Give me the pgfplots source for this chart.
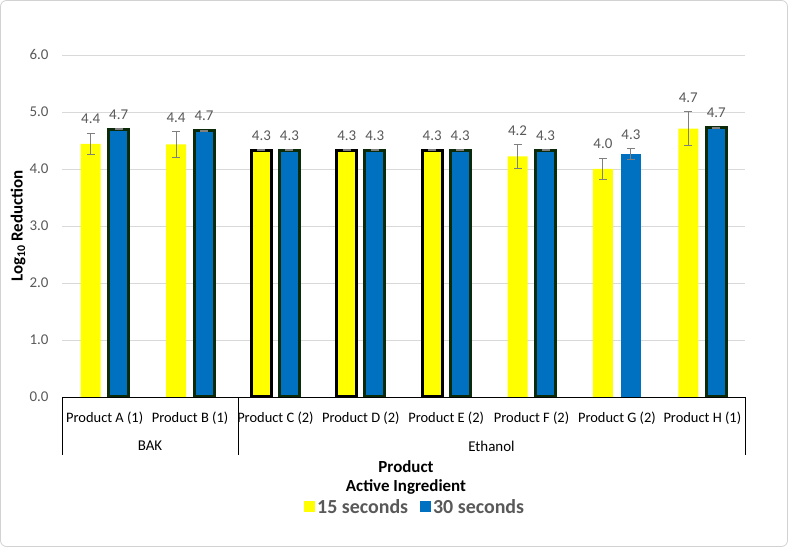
\documentclass[border=0pt]{standalone}
\usepackage{pgfplots}
\pgfplotsset{compat=1.18}
\usepackage{fontspec}
\setmainfont{Carlito}
\definecolor{yel}{HTML}{FFFF00}
\definecolor{blu}{HTML}{0070C0}
\definecolor{dgr}{HTML}{0A2A0A}
\definecolor{txt}{HTML}{595959}
\definecolor{errc}{HTML}{7F7F7F}
\newcommand{\fs}[1]{\fontsize{#1}{#1}\selectfont}
\begin{document}
\begin{tikzpicture}[x=1bp,y=1bp]
\path[fill=white] (0,0) rectangle (788,547);
\draw[gray!35, line width=0.8bp, rounded corners=6bp] (0.5,0.5) rectangle (787.5,546.5);
\begin{axis}[at={(62bp,150bp)}, anchor=south west, scale only axis,
  width=683bp, height=342bp,
  xmin=-0.5, xmax=7.5, ymin=0, ymax=6,
  axis x line=bottom, axis y line=left,
  y axis line style={draw=none}, x axis line style={-, black, line width=0.9bp},
  major tick length=0pt,
  ymajorgrids, grid style={color=black!15, line width=0.8bp},
  ytick={0,1,...,6},
  yticklabel={\pgfmathprintnumber[fixed,fixed zerofill,precision=1]{\tick}},
  /pgf/number format/assume math mode=true,
  yticklabel style={font=\fs{15}, text=txt, xshift=-10bp},
  xtick={0,...,7},
  xticklabels={Product A (1),Product B (1),Product C (2),Product D (2),Product E (2),Product F (2),Product G (2),Product H (1)},
  xticklabel style={font=\fs{14.5}, text=black, yshift=-11bp},
  error bars/error bar style={errc, line width=1bp},
  error bars/error mark options={rotate=90, mark size=4bp, errc, line width=1bp},
  legend style={at={(axis description cs:0.517,-0.322)}, anchor=center, draw=none, fill=none,
    legend columns=2, font=\fs{20}\bfseries, text=txt,
    /tikz/every even column/.append style={column sep=10bp}},
]
% 15 seconds, plain
\addplot[ybar, bar width=20bp, bar shift=0pt, fill=yel, draw=none,
  error bars/.cd, y dir=both, y explicit,
  /pgfplots/legend image code/.code={\fill[yel] (0bp,-5bp) rectangle (11bp,6bp);}]
  coordinates {(-0.164,4.44)+-(0,0.19) (0.836,4.43)+-(0,0.22) (4.836,4.22)+-(0,0.21) (5.836,4.00)+-(0,0.19) (6.836,4.71)+-(0,0.29)};
\addlegendentry{15 seconds}
% 30 seconds, plain
\addplot[ybar, bar width=20bp, bar shift=0pt, fill=blu, draw=none,
  error bars/.cd, y dir=both, y explicit,
  /pgfplots/legend image code/.code={\fill[blu] (0bp,-5bp) rectangle (11bp,6bp);}]
  coordinates {(6.164,4.27)+-(0,0.095)};
\addlegendentry{30 seconds}
% 15 seconds, outlined
\addplot[forget plot, ybar, bar width=20bp, bar shift=0pt, fill=yel, draw=black, line width=3bp,
  error bars/.cd, y dir=both, y explicit]
  coordinates {(1.836,4.33)+-(0,0.01) (2.836,4.33)+-(0,0.01) (3.836,4.33)+-(0,0.01)};
% 30 seconds, outlined
\addplot[forget plot, ybar, bar width=20bp, bar shift=0pt, fill=blu, draw=dgr, line width=3bp,
  error bars/.cd, y dir=both, y explicit]
  coordinates {(0.164,4.70)+-(0,0.01) (1.164,4.67)+-(0,0.01) (2.164,4.33)+-(0,0.01) (3.164,4.33)+-(0,0.01)
               (4.164,4.33)+-(0,0.01) (5.164,4.33)+-(0,0.01) (7.164,4.72)+-(0,0.01)};
% data labels
\addplot[forget plot, draw=none, mark=none, point meta=explicit,
  nodes near coords={\pgfmathprintnumber[fixed,fixed zerofill,precision=1]{\pgfplotspointmeta}},
  nodes near coords style={font=\fs{15}, text=txt, anchor=center}]
  coordinates {(-0.164,4.88)[4.4] (0.836,4.90)[4.4] (1.836,4.59)[4.3] (2.836,4.59)[4.3]
    (3.836,4.59)[4.3] (4.836,4.68)[4.2] (5.836,4.44)[4.0] (6.836,5.25)[4.7]};
\addplot[forget plot, draw=none, mark=none, point meta=explicit,
  nodes near coords={\pgfmathprintnumber[fixed,fixed zerofill,precision=1]{\pgfplotspointmeta}},
  nodes near coords style={font=\fs{15}, text=txt, anchor=center}]
  coordinates {(0.164,4.96)[4.7] (1.164,4.93)[4.7] (2.164,4.59)[4.3] (3.164,4.59)[4.3]
    (4.164,4.59)[4.3] (5.164,4.59)[4.3] (6.164,4.61)[4.3] (7.164,4.98)[4.7]};
\end{axis}
\draw[black, line width=0.9bp] (62,150) -- (62,92);
\draw[black, line width=0.9bp] (238,150) -- (238,92);
\draw[black, line width=0.9bp] (745,150) -- (745,92);
\node[font=\fs{15}] at (150,101) {BAK};
\node[font=\fs{15}] at (491.5,101) {Ethanol};
\node[font=\fs{17}\bfseries] at (406,80) {Product};
\node[font=\fs{17}\bfseries] at (406,60) {Active Ingredient};
\node[font=\fs{17}\bfseries, rotate=90] at (18,321) {Log$_{\mathbf{10}}$ Reduction};
\end{tikzpicture}
\end{document}
